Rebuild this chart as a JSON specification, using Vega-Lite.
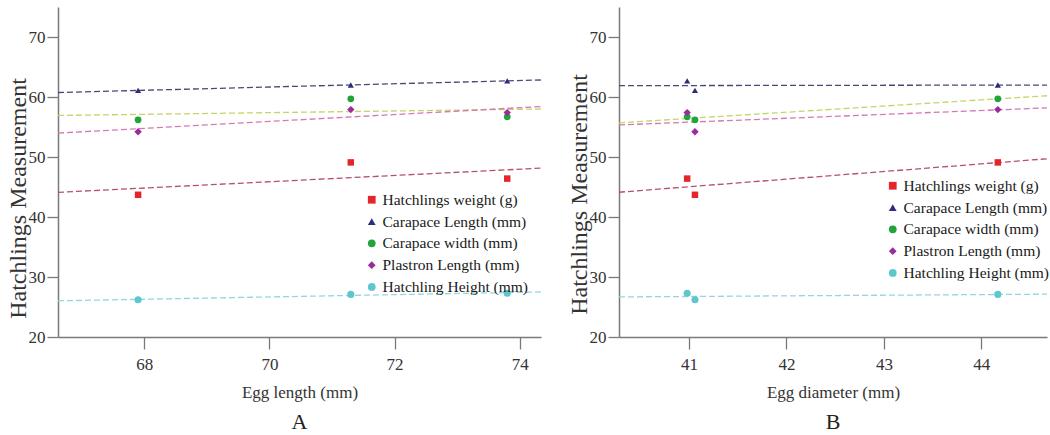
{
  "$schema": "https://vega.github.io/schema/vega-lite/v6.json",
  "background": "white",
  "padding": {"left": 6, "top": 7, "right": 5, "bottom": 0},
  "data": {"values": [
    {"clutch": 1, "length": 67.9, "diameter": 41.06, "series": "Hatchlings weight (g)", "value": 43.7},
    {"clutch": 1, "length": 67.9, "diameter": 41.06, "series": "Carapace Length (mm)", "value": 61.1},
    {"clutch": 1, "length": 67.9, "diameter": 41.06, "series": "Carapace width (mm)", "value": 56.2},
    {"clutch": 1, "length": 67.9, "diameter": 41.06, "series": "Plastron Length (mm)", "value": 54.2},
    {"clutch": 1, "length": 67.9, "diameter": 41.06, "series": "Hatchling Height (mm)", "value": 26.2},
    {"clutch": 2, "length": 71.3, "diameter": 44.17, "series": "Hatchlings weight (g)", "value": 49.1},
    {"clutch": 2, "length": 71.3, "diameter": 44.17, "series": "Carapace Length (mm)", "value": 62.0},
    {"clutch": 2, "length": 71.3, "diameter": 44.17, "series": "Carapace width (mm)", "value": 59.7},
    {"clutch": 2, "length": 71.3, "diameter": 44.17, "series": "Plastron Length (mm)", "value": 57.9},
    {"clutch": 2, "length": 71.3, "diameter": 44.17, "series": "Hatchling Height (mm)", "value": 27.1},
    {"clutch": 3, "length": 73.8, "diameter": 40.98, "series": "Hatchlings weight (g)", "value": 46.4},
    {"clutch": 3, "length": 73.8, "diameter": 40.98, "series": "Carapace Length (mm)", "value": 62.7},
    {"clutch": 3, "length": 73.8, "diameter": 40.98, "series": "Carapace width (mm)", "value": 56.7},
    {"clutch": 3, "length": 73.8, "diameter": 40.98, "series": "Plastron Length (mm)", "value": 57.4},
    {"clutch": 3, "length": 73.8, "diameter": 40.98, "series": "Hatchling Height (mm)", "value": 27.3}
  ]},
  "config": {
    "font": "Liberation Serif",
    "view": {"stroke": null},
    "axis": {"grid": false, "domainColor": "#7a7a7a", "domainWidth": 1.5, "tickColor": "#7a7a7a", "tickWidth": 1.3,
      "labelFont": "Liberation Serif", "labelFontSize": 17, "labelColor": "#333333",
      "titleFont": "Liberation Serif", "titleFontSize": 17, "titleFontWeight": "normal", "titleColor": "#333333"},
    "axisX": {"tickSize": 12, "labelPadding": 7, "titlePadding": 12, "format": "d"},
    "axisY": {"tickSize": 11, "labelPadding": 2, "titleFontSize": 24, "titleX": -28},
    "legend": {"labelFont": "Liberation Serif", "labelFontSize": 15.5, "labelColor": "#1a1a1a", "labelLimit": 400, "rowPadding": 4.8, "symbolSize": 60, "labelOffset": 3, "padding": 0}
  },
  "spacing": 23,
  "resolve": {"scale": {"x": "independent", "color": "independent", "shape": "independent", "stroke": "independent", "size": "independent"}},
  "hconcat": [
    {
      "width": 483, "height": 330,
      "title": {"text": "A", "orient": "bottom", "font": "Liberation Serif", "fontSize": 22, "fontWeight": "normal", "color": "#222222", "offset": 12},
      "layer": [
        {
          "transform": [{"regression": "value", "on": "length", "groupby": ["series"], "extent": [66.62, 74.34]}],
          "mark": {"type": "line", "strokeDash": [6, 3], "strokeWidth": 1.3},
          "encoding": {
            "x": {"field": "length", "type": "quantitative", "scale": {"domain": [66.62, 74.34], "nice": false, "zero": false},
                  "axis": {"title": "Egg length (mm)", "values": [68, 70, 72, 74]}},
            "y": {"field": "value", "type": "quantitative", "scale": {"domain": [20, 75], "nice": false, "zero": false},
                  "axis": {"title": "Hatchlings Measurement", "values": [20, 30, 40, 50, 60, 70], "titleY": 191}},
            "stroke": {"field": "series", "type": "nominal", "legend": null,
                       "scale": {"domain": ["Hatchling Height (mm)", "Plastron Length (mm)", "Carapace width (mm)", "Carapace Length (mm)", "Hatchlings weight (g)"],
                                 "range": ["#94d6de", "#d37ab0", "#c4d66a", "#4a4870", "#b5506e"]}}
          }
        },
        {
          "mark": {"type": "point", "filled": true, "opacity": 1},
          "encoding": {
            "x": {"field": "length", "type": "quantitative"},
            "y": {"field": "value", "type": "quantitative"},
            "color": {"field": "series", "type": "nominal",
                      "scale": {"domain": ["Hatchlings weight (g)", "Carapace Length (mm)", "Carapace width (mm)", "Plastron Length (mm)", "Hatchling Height (mm)"],
                                "range": ["#e4262c", "#2e2c7e", "#22a43a", "#9c2c9c", "#5ec6cf"]},
                      "legend": {"title": null, "orient": "none", "legendX": 306, "legendY": 185}},
            "shape": {"field": "series", "type": "nominal",
                      "scale": {"domain": ["Hatchlings weight (g)", "Carapace Length (mm)", "Carapace width (mm)", "Plastron Length (mm)", "Hatchling Height (mm)"],
                                "range": ["square", "triangle-up", "circle", "diamond", "circle"]},
                      "legend": {"title": null, "orient": "none", "legendX": 306, "legendY": 185}},
            "size": {"field": "series", "type": "nominal", "legend": null,
                     "scale": {"domain": ["Carapace Length (mm)", "Hatchlings weight (g)", "Carapace width (mm)", "Hatchling Height (mm)", "Plastron Length (mm)"],
                               "range": [38, 55, 65, 60, 90]}}
          }
        }
      ]
    },
    {
      "width": 428, "height": 330,
      "title": {"text": "B", "orient": "bottom", "font": "Liberation Serif", "fontSize": 22, "fontWeight": "normal", "color": "#222222", "offset": 12},
      "layer": [
        {
          "transform": [{"regression": "value", "on": "diameter", "groupby": ["series"], "extent": [40.28, 44.675]}],
          "mark": {"type": "line", "strokeDash": [6, 3], "strokeWidth": 1.3},
          "encoding": {
            "x": {"field": "diameter", "type": "quantitative", "scale": {"domain": [40.28, 44.675], "nice": false, "zero": false},
                  "axis": {"title": "Egg diameter (mm)", "values": [41, 42, 43, 44]}},
            "y": {"field": "value", "type": "quantitative", "scale": {"domain": [20, 75], "nice": false, "zero": false},
                  "axis": {"title": "Hatchlings Measurement", "values": [20, 30, 40, 50, 60, 70], "titleY": 187}},
            "stroke": {"field": "series", "type": "nominal", "legend": null,
                       "scale": {"domain": ["Hatchling Height (mm)", "Plastron Length (mm)", "Carapace width (mm)", "Carapace Length (mm)", "Hatchlings weight (g)"],
                                 "range": ["#94d6de", "#d37ab0", "#c4d66a", "#4a4870", "#b5506e"]}}
          }
        },
        {
          "mark": {"type": "point", "filled": true, "opacity": 1},
          "encoding": {
            "x": {"field": "diameter", "type": "quantitative"},
            "y": {"field": "value", "type": "quantitative"},
            "color": {"field": "series", "type": "nominal",
                      "scale": {"domain": ["Hatchlings weight (g)", "Carapace Length (mm)", "Carapace width (mm)", "Plastron Length (mm)", "Hatchling Height (mm)"],
                                "range": ["#e4262c", "#2e2c7e", "#22a43a", "#9c2c9c", "#5ec6cf"]},
                      "legend": {"title": null, "orient": "none", "legendX": 266, "legendY": 171}},
            "shape": {"field": "series", "type": "nominal",
                      "scale": {"domain": ["Hatchlings weight (g)", "Carapace Length (mm)", "Carapace width (mm)", "Plastron Length (mm)", "Hatchling Height (mm)"],
                                "range": ["square", "triangle-up", "circle", "diamond", "circle"]},
                      "legend": {"title": null, "orient": "none", "legendX": 266, "legendY": 171}},
            "size": {"field": "series", "type": "nominal", "legend": null,
                     "scale": {"domain": ["Carapace Length (mm)", "Hatchlings weight (g)", "Carapace width (mm)", "Hatchling Height (mm)", "Plastron Length (mm)"],
                               "range": [38, 55, 65, 60, 90]}}
          }
        }
      ]
    }
  ]
}
